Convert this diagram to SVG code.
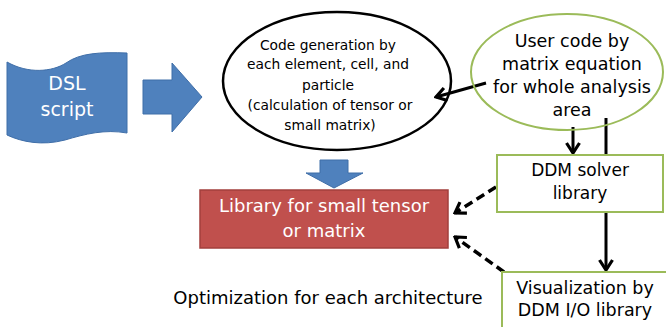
<svg xmlns="http://www.w3.org/2000/svg" width="666" height="327" viewBox="0 0 666 327">
<style>
text{font-family:"DejaVu Sans","Liberation Sans",sans-serif;text-anchor:middle;dominant-baseline:central}
.blk{fill:#000}
.wht{fill:#fff}
.conn{fill:none;stroke:#000;stroke-width:3}
.dash{stroke-dasharray:9 5;stroke-width:3.5}
.gbox{fill:#fff;stroke:#9bbb59;stroke-width:2}
.bluefill{fill:#4f81bd;stroke:#3f6ea8;stroke-width:1}
</style>
<defs>
<marker id="chev" viewBox="0 0 14 16" refX="12" refY="8" markerWidth="14" markerHeight="16" markerUnits="userSpaceOnUse" orient="auto">
<path d="M2,1.5 L12,8 L2,14.5" fill="none" stroke="#000" stroke-width="3.2"/>
</marker>
</defs>
<g id="connectors">
<line class="conn" x1="486" y1="83" x2="436" y2="97" marker-end="url(#chev)"/>
<line class="conn" x1="573" y1="127" x2="573" y2="153" marker-end="url(#chev)"/>
<line class="conn" x1="606" y1="118" x2="606" y2="270" marker-end="url(#chev)"/>
<line class="conn dash" x1="496" y1="187" x2="455" y2="213" marker-end="url(#chev)"/>
<line class="conn dash" x1="504" y1="272" x2="455" y2="237" marker-end="url(#chev)"/>
</g>
<g id="dsl">
<path class="bluefill" d="M7,62 C28,74 52,72 66,63 C80,53 100,52 127,53 L127,133 C105,129 85,134 65,140 C42,146 22,142 7,135 Z"/>
<text class="wht" x="67" y="83" font-size="19">DSL</text>
<text class="wht" x="67" y="109" font-size="19">script</text>
</g>
<g id="arrow-right">
<path class="bluefill" d="M143,80 L172,80 L172,63 L202,97 L172,132 L172,114 L143,114 Z"/>
</g>
<g id="codegen">
<ellipse cx="337" cy="81" rx="114" ry="69" fill="none" stroke="#000" stroke-width="2.5"/>
<text class="blk" x="328" y="45" font-size="13.8">Code generation by</text>
<text class="blk" x="328" y="64" font-size="13.8">each element, cell, and</text>
<text class="blk" x="328" y="85" font-size="13.8">particle</text>
<text class="blk" x="330" y="105" font-size="13.8">(calculation of tensor or</text>
<text class="blk" x="330" y="125" font-size="13.8">small matrix)</text>
</g>
<g id="usercode">
<ellipse cx="567" cy="72" rx="96" ry="58" fill="none" stroke="#9bbb59" stroke-width="2"/>
<text class="blk" x="572" y="41" font-size="17.5">User code by</text>
<text class="blk" x="572" y="64" font-size="17.5">matrix equation</text>
<text class="blk" x="572" y="87" font-size="17.5">for whole analysis</text>
<text class="blk" x="572" y="110" font-size="17.5">area</text>
</g>
<g id="arrow-down">
<path class="bluefill" d="M320,160 L348,160 L348,173 L363,173 L334,188 L306,173 L320,173 Z"/>
</g>
<g id="library">
<rect x="200" y="190" width="248" height="58" fill="#c0504d" stroke="#a23f3c" stroke-width="1.5"/>
<text class="wht" x="324" y="205" font-size="18">Library for small tensor</text>
<text class="wht" x="324" y="230" font-size="18">or matrix</text>
</g>
<g id="ddm-solver">
<rect class="gbox" x="497" y="155" width="166" height="57"/>
<text class="blk" x="580" y="170" font-size="17">DDM solver</text>
<text class="blk" x="580" y="193" font-size="17">library</text>
</g>
<g id="visualization">
<rect class="gbox" x="502" y="272" width="170" height="60"/>
<text class="blk" x="585" y="288" font-size="17.5">Visualization by</text>
<text class="blk" x="585" y="310" font-size="17.5">DDM I/O library</text>
</g>
<g id="note">
<text class="blk" x="328" y="297" font-size="18">Optimization for each architecture</text>
</g>
</svg>
